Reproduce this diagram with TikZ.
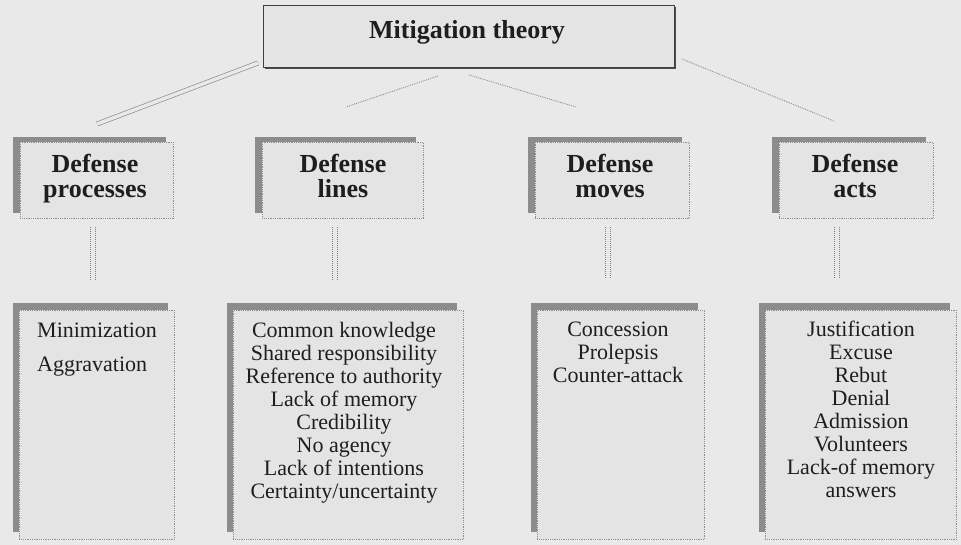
\documentclass[tikz,border=0pt]{standalone}
\usepackage{fontspec}
\setmainfont{Liberation Serif}
\usetikzlibrary{shadows}
\definecolor{bgc}{HTML}{E9E9E9}
\definecolor{boxfill}{HTML}{E4E4E4}
\definecolor{shadowc}{HTML}{8C8C8C}
\definecolor{linec}{HTML}{8E8E8E}
\definecolor{txt}{HTML}{1E1E1E}
\begin{document}
\begin{tikzpicture}[x=1pt,y=-1pt,
  topbox/.style={draw=black!75, line width=1.1pt, fill=boxfill, inner sep=0pt,
    anchor=north west, general shadow={fill=black!70, shadow xshift=1pt, shadow yshift=-1.5pt}},
  midbox/.style={draw=linec, densely dotted, line width=0.8pt, fill=boxfill, inner sep=0pt,
    anchor=north west, minimum height=76pt,
    general shadow={fill=shadowc, shadow xshift=-7pt, shadow yshift=5pt}},
  lowbox/.style={draw=linec, densely dotted, line width=0.8pt, fill=boxfill, inner sep=0pt,
    anchor=north west, minimum height=229pt,
    general shadow={fill=shadowc, shadow xshift=-6pt, shadow yshift=7pt}},
  titletext/.style={font=\fontsize{26}{28}\selectfont\bfseries, text=txt, inner sep=0pt},
  headtext/.style={font=\fontsize{26}{25}\selectfont\bfseries, text=txt, inner sep=0pt, align=center, anchor=north},
  itemtext/.style={font=\fontsize{22}{23}\selectfont, text=txt, inner sep=0pt, align=center, anchor=north},
  conn/.style={draw=linec, line width=0.9pt, densely dotted},
  dconn/.style={draw=linec, line width=0.7pt, double=bgc, double distance=3.5pt},
  vconn/.style={draw=linec!90!black, line width=1pt, densely dotted},
]
\useasboundingbox (0,0) rectangle (961,545);
\fill[bgc] (0,0) rectangle (961,545);

% top box
\node[topbox, minimum width=411pt, minimum height=62pt] (top) at (263,5) {};
\node[titletext, anchor=base] (toptext) at (467,39) {Mitigation theory};

% middle boxes
\node[midbox, minimum width=153pt] (mp) at (20,142) {};
\node[midbox, minimum width=161pt] (ml) at (262,142) {};
\node[midbox, minimum width=154pt] (mm) at (535,142) {};
\node[midbox, minimum width=154pt] (ma) at (779,142) {};
\node[headtext] (mpt) at (95,154) {Defense\\processes};
\node[headtext] (mlt) at (343,154) {Defense\\lines};
\node[headtext] (mmt) at (610,154) {Defense\\moves};
\node[headtext] (mat) at (855,154) {Defense\\acts};

% lower boxes
\node[lowbox, minimum width=155pt] (lp) at (19,310) {};
\node[lowbox, minimum width=230pt] (ll) at (233,310) {};
\node[lowbox, minimum width=167pt] (lm) at (537,310) {};
\node[lowbox, minimum width=191pt] (la) at (765,310) {};
\node[itemtext, align=left, anchor=north west] (lpt) at (37,323) {Minimization\\[11pt]Aggravation};
\node[itemtext] (llt) at (344,322) {Common knowledge\\Shared responsibility\\Reference to authority\\Lack of memory\\Credibility\\No agency\\Lack of intentions\\Certainty/uncertainty};
\node[itemtext] (lmt) at (618,322) {Concession\\Prolepsis\\Counter-attack};
\node[itemtext] (lat) at (861,321) {Justification\\Excuse\\Rebut\\Denial\\Admission\\Volunteers\\Lack-of memory\\answers};

% slanted connectors (free ends)
\coordinate (s1a) at (258,63);  \coordinate (s1b) at (97,124);
\coordinate (s2a) at (438,76);  \coordinate (s2b) at (346,107);
\coordinate (s3a) at (469,75);  \coordinate (s3b) at (576,107);
\coordinate (s4a) at (682,59);  \coordinate (s4b) at (834,121);
\draw[dconn] (s1a) -- (s1b);
\draw[conn] (s2a) -- (s2b);
\draw[conn] (s3a) -- (s3b);
\draw[conn] (s4a) -- (s4b);

% vertical connectors (double dotted lines)
\coordinate (v1a) at (93,227);  \coordinate (v1b) at (93,280);
\coordinate (v2a) at (335,227); \coordinate (v2b) at (335,280);
\coordinate (v3a) at (608,227); \coordinate (v3b) at (608,279);
\coordinate (v4a) at (837,227); \coordinate (v4b) at (837,279);
\foreach \a/\b in {v1a/v1b, v2a/v2b, v3a/v3b, v4a/v4b}{
  \draw[vconn] ([xshift=-2.5pt]\a) -- ([xshift=-2.5pt]\b);
  \draw[vconn] ([xshift=2.5pt]\a) -- ([xshift=2.5pt]\b);
}
\end{tikzpicture}
\end{document}
